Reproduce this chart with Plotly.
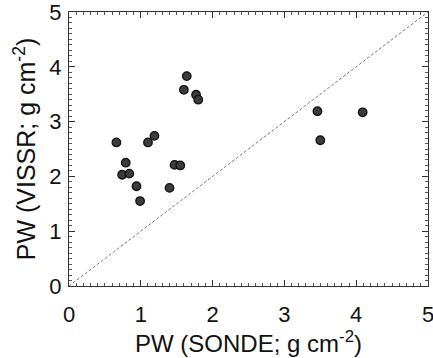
import plotly.graph_objects as go

# Data
pw_sonde = [0.66, 0.79, 0.74, 0.84, 0.94, 0.99, 1.10, 1.19, 1.40, 1.47, 1.55,
            1.60, 1.64, 1.77, 1.80, 3.46, 3.50, 4.09]
pw_vissr = [2.62, 2.25, 2.03, 2.05, 1.82, 1.55, 2.62, 2.74, 1.79, 2.21, 2.20,
            3.58, 3.83, 3.49, 3.40, 3.19, 2.66, 3.17]
one_to_one = [0, 5]
tick_vals = [0, 1, 2, 3, 4, 5]

FONT = "Liberation Sans, Arial"

fig = go.Figure()
fig.add_trace(go.Scatter(
    x=one_to_one, y=one_to_one, mode="lines",
    line=dict(color="#777777", width=1, dash="3px,2px"),
    hoverinfo="skip", showlegend=False))
fig.add_trace(go.Scatter(
    x=pw_sonde, y=pw_vissr, mode="markers",
    marker=dict(size=8.5, color="#3c3c3c", line=dict(color="#111111", width=1.3)),
    showlegend=False, cliponaxis=False))

axis_common = dict(
    range=[0, 5], tickvals=tick_vals, ticks="inside", ticklen=6, tickwidth=1,
    tickcolor="#333333", mirror="allticks", showline=True, linecolor="#333333",
    linewidth=1, showgrid=False, zeroline=False, ticklabeloverflow="allow",
    automargin=False,
    tickfont=dict(family=FONT, size=22, color="#111111"),
    minor=dict(dtick=0.1, ticks="inside", ticklen=3, tickcolor="#555555", showgrid=False),
)

fig.update_xaxes(**axis_common, ticklabelstandoff=9,
                 title=dict(text="PW (SONDE; g cm<sup>-2</sup>)",
                            font=dict(family=FONT, size=24, color="#111111"),
                            standoff=1))
fig.update_yaxes(**axis_common, ticklabelstandoff=2,
                 title=dict(text="PW (VISSR; g cm<sup>-2</sup>)",
                            font=dict(family=FONT, size=25, color="#111111"),
                            standoff=6))

fig.update_layout(
    width=433, height=358,
    margin=dict(l=69, r=5, t=12, b=72),
    paper_bgcolor="white", plot_bgcolor="white",
)

fig.write_html("out.html", config={"displayModeBar": False},
               post_script="document.body.style.margin='0';document.body.style.padding='0';")
